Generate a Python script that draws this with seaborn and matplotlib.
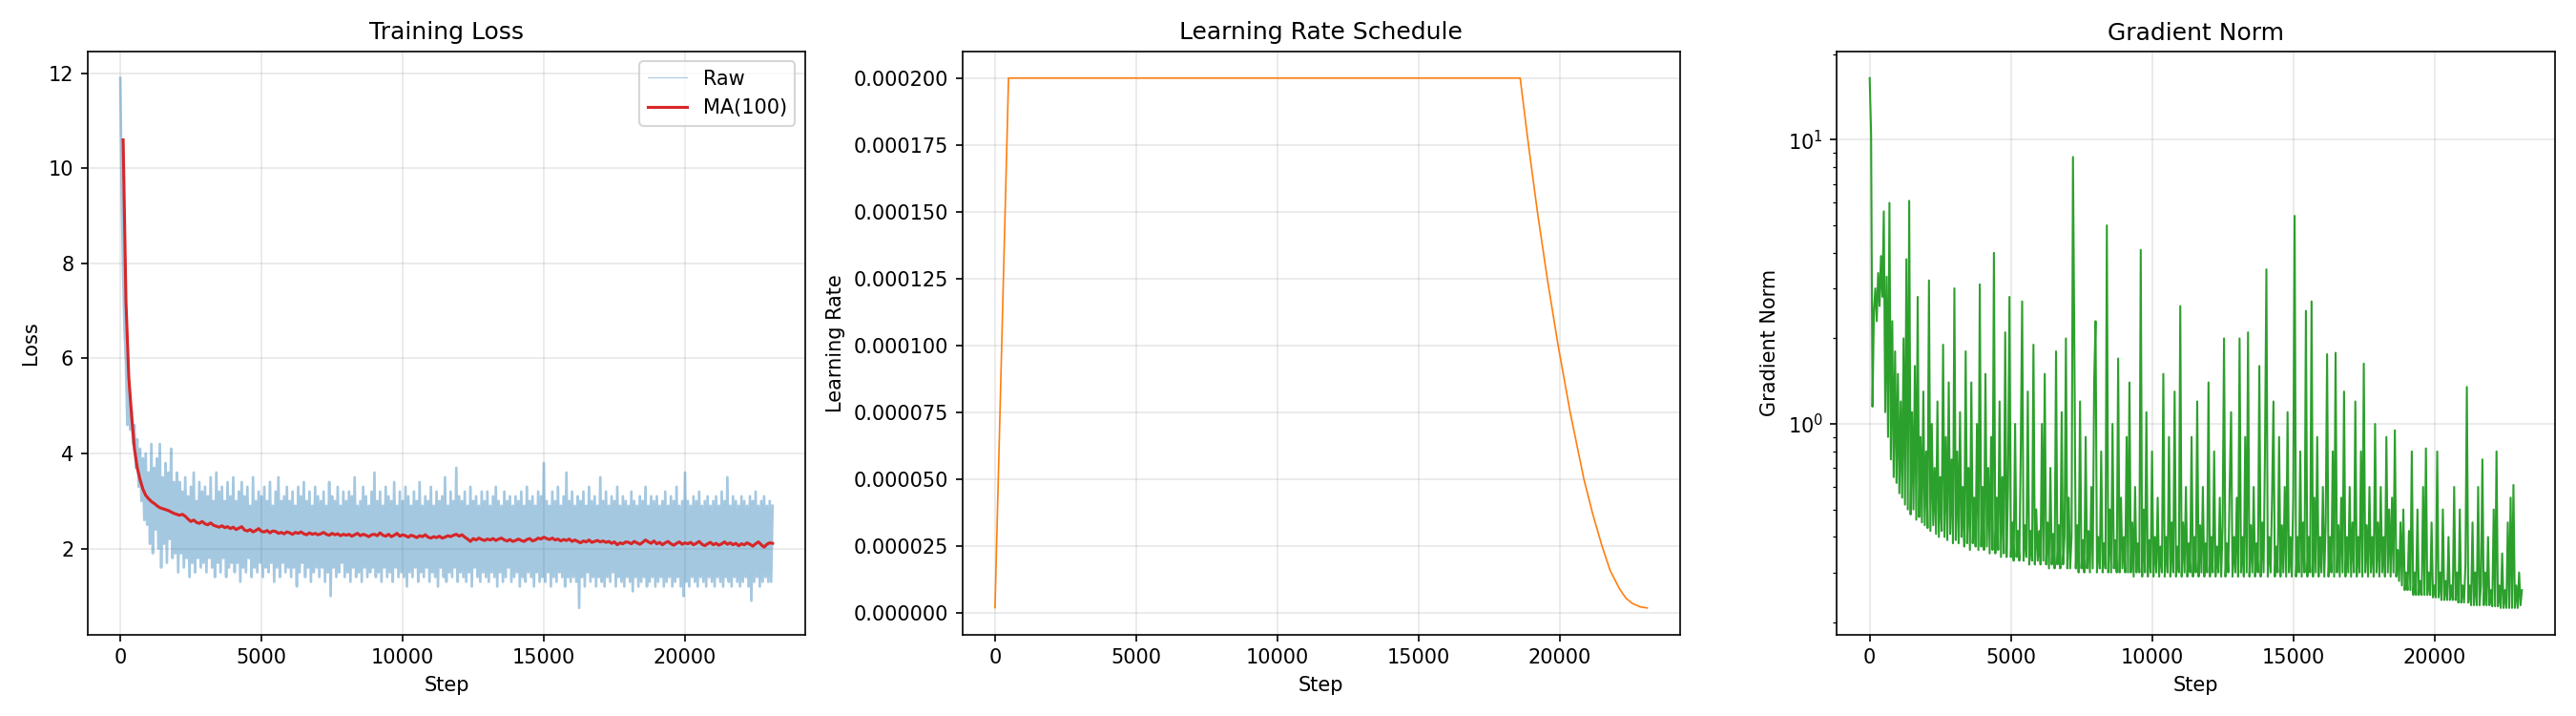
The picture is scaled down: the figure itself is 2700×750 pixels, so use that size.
import numpy as np
import pandas as pd
import matplotlib
matplotlib.use('Agg')
import matplotlib.pyplot as plt
import seaborn as sns

# raw loss, one value every 50 steps (rows = 1000 steps)
loss_raw = [
    11.9, 9.5, 7.8, 6.6, 5.9, 4.6, 5.4, 4.5, 4.9, 4.2, 4.6, 3.7, 4.3, 3.3, 4.1, 3.0, 3.9, 2.6, 4.0, 2.5,
    3.6, 2.1, 4.2, 1.9, 3.7, 2.4, 3.9, 2.0, 4.2, 1.6, 3.5, 2.1, 3.8, 1.7, 3.6, 2.2, 4.1, 1.8, 3.4, 1.9,
    3.6, 1.5, 3.4, 1.9, 3.2, 1.6, 3.5, 1.8, 3.1, 1.4, 3.3, 1.7, 3.6, 1.5, 3.0, 1.8, 3.4, 1.6, 3.2, 1.7,
    3.3, 1.5, 3.1, 1.8, 3.5, 1.6, 3.0, 1.4, 3.6, 1.7, 3.2, 1.5, 3.3, 1.8, 3.0, 1.4, 3.4, 1.6, 3.1, 1.7,
    3.5, 1.5, 3.0, 1.7, 3.2, 1.3, 3.4, 1.6, 3.1, 1.5, 3.3, 1.8, 2.9, 1.4, 3.5, 1.6, 3.0, 1.5, 3.2, 1.7,
    3.1, 1.4, 3.3, 1.6, 3.0, 1.5, 3.4, 1.7, 2.9, 1.3, 3.2, 1.6, 3.5, 1.4, 3.0, 1.7, 3.1, 1.5, 3.3, 1.6,
    3.0, 1.4, 3.2, 1.6, 2.9, 1.2, 3.3, 1.5, 3.1, 1.7, 3.4, 1.4, 3.0, 1.6, 3.2, 1.3, 2.9, 1.5, 3.3, 1.6,
    3.1, 1.4, 3.0, 1.6, 3.2, 1.3, 2.9, 1.5, 3.4, 1.0, 3.1, 1.6, 3.0, 1.4, 3.3, 1.5, 2.9, 1.7, 3.2, 1.4,
    3.0, 1.5, 3.2, 1.3, 3.1, 1.6, 3.5, 1.4, 2.9, 1.5, 3.0, 1.3, 3.3, 1.6, 3.1, 1.4, 2.9, 1.5, 3.2, 1.6,
    3.6, 1.4, 3.0, 1.5, 3.2, 1.3, 2.9, 1.6, 3.3, 1.4, 3.1, 1.5, 3.0, 1.3, 3.4, 1.6, 2.9, 1.4, 3.2, 1.5,
    3.0, 1.4, 3.3, 1.2, 3.1, 1.5, 2.9, 1.4, 3.2, 1.6, 3.0, 1.3, 3.4, 1.5, 2.9, 1.4, 3.1, 1.6, 3.0, 1.3,
    3.3, 1.5, 2.9, 1.4, 3.2, 1.2, 3.0, 1.6, 3.1, 1.4, 3.5, 1.3, 2.9, 1.5, 3.2, 1.4, 3.0, 1.6, 3.7, 1.3,
    3.1, 1.5, 3.0, 1.4, 3.2, 1.3, 2.9, 1.5, 3.3, 1.2, 3.0, 1.6, 3.1, 1.4, 2.9, 1.3, 3.2, 1.5, 3.0, 1.4,
    3.2, 1.3, 2.9, 1.5, 3.1, 1.4, 3.3, 1.2, 3.0, 1.5, 2.9, 1.3, 3.2, 1.4, 3.0, 1.6, 3.1, 1.3, 2.9, 1.4,
    3.1, 1.5, 3.0, 1.2, 3.2, 1.4, 2.9, 1.3, 3.3, 1.5, 3.0, 1.4, 3.1, 1.2, 2.9, 1.5, 3.2, 1.3, 3.1, 1.4,
    3.8, 1.3, 3.0, 1.5, 2.9, 1.2, 3.2, 1.4, 3.0, 1.3, 3.3, 1.5, 2.9, 1.4, 3.1, 1.2, 3.6, 1.4, 3.0, 1.3,
    3.2, 1.4, 2.9, 1.3, 3.1, 0.75, 3.0, 1.4, 3.2, 1.2, 2.9, 1.5, 3.3, 1.3, 3.0, 1.4, 3.1, 1.2, 2.9, 1.4,
    3.5, 1.3, 3.0, 1.2, 3.2, 1.4, 2.9, 1.3, 3.1, 1.5, 3.0, 1.2, 3.3, 1.4, 2.9, 1.3, 3.1, 1.2, 3.0, 1.4,
    2.9, 1.3, 3.2, 1.1, 3.0, 1.4, 2.9, 1.2, 3.1, 1.3, 3.0, 1.4, 3.3, 1.2, 2.9, 1.3, 3.1, 1.4, 3.0, 1.2,
    3.1, 1.3, 2.9, 1.4, 3.0, 1.2, 3.2, 1.3, 2.9, 1.4, 3.1, 1.2, 3.0, 1.3, 3.3, 1.4, 2.9, 1.2, 3.0, 1.0,
    3.6, 1.3, 3.0, 1.2, 2.9, 1.4, 3.1, 1.3, 3.0, 1.2, 3.2, 1.4, 2.9, 1.3, 3.0, 1.2, 3.1, 1.4, 2.9, 1.3,
    3.0, 1.2, 3.1, 1.4, 2.9, 1.3, 3.2, 1.2, 3.0, 1.4, 3.5, 1.3, 2.9, 1.2, 3.1, 1.4, 3.0, 1.3, 2.9, 1.2,
    3.1, 1.3, 3.0, 1.4, 2.9, 1.2, 3.1, 0.9, 3.0, 1.3, 3.2, 1.4, 2.9, 1.2, 3.0, 1.3, 3.1, 1.4, 2.9, 1.3,
    3.0, 1.3, 2.9,
]
loss_steps = np.arange(0, 23101, 50)

# moving average MA(100), one value every 100 steps from step 100
loss_ma = [
    10.6, 7.2, 5.6, 4.8, 4.1, 3.7, 3.45, 3.25, 3.12, 3.05,
    2.99, 2.95, 2.9, 2.86, 2.84, 2.82, 2.8, 2.77, 2.74, 2.72,
    2.7, 2.72, 2.68, 2.62, 2.57, 2.6, 2.55, 2.53, 2.57, 2.52,
    2.5, 2.54, 2.49, 2.47, 2.45, 2.48, 2.44, 2.46, 2.42, 2.45,
    2.4, 2.43, 2.46, 2.39, 2.37, 2.4, 2.35, 2.38, 2.42, 2.36,
    2.35, 2.38, 2.33, 2.37, 2.36, 2.32, 2.34, 2.31, 2.35, 2.33,
    2.3, 2.34, 2.32, 2.35, 2.31, 2.29, 2.33, 2.3, 2.32, 2.29,
    2.31, 2.34, 2.3, 2.28, 2.32, 2.29, 2.31, 2.27, 2.3, 2.28,
    2.3, 2.26, 2.29, 2.32, 2.27, 2.3, 2.28, 2.25, 2.29, 2.3,
    2.27, 2.33, 2.28, 2.26, 2.3, 2.25, 2.28, 2.32, 2.26, 2.29,
    2.27, 2.24, 2.28, 2.26, 2.23, 2.27, 2.25, 2.29, 2.24, 2.22,
    2.25, 2.23, 2.26, 2.22, 2.24, 2.27, 2.25, 2.28, 2.3, 2.26,
    2.29, 2.24, 2.2, 2.15, 2.21, 2.18, 2.22, 2.19, 2.17, 2.2,
    2.18, 2.21, 2.17, 2.2, 2.22, 2.18, 2.16, 2.19, 2.15, 2.17,
    2.2, 2.17, 2.15, 2.19, 2.21, 2.16, 2.18, 2.22, 2.2, 2.24,
    2.21, 2.19, 2.22, 2.18, 2.2, 2.16, 2.19, 2.17, 2.2, 2.15,
    2.18, 2.15, 2.12, 2.16, 2.14, 2.18, 2.13, 2.15, 2.17, 2.14,
    2.16, 2.13, 2.15, 2.11, 2.14, 2.08, 2.12, 2.1, 2.14, 2.13,
    2.1, 2.15, 2.12, 2.09, 2.13, 2.18, 2.14, 2.11, 2.16, 2.1,
    2.13, 2.08, 2.12, 2.15, 2.1, 2.07, 2.11, 2.14, 2.09, 2.12,
    2.1, 2.13, 2.08, 2.11, 2.15, 2.09, 2.06, 2.1, 2.13, 2.08,
    2.11, 2.07, 2.1, 2.14, 2.09, 2.12, 2.08, 2.11, 2.06, 2.1,
    2.08, 2.12, 2.09, 2.05, 2.1, 2.14, 2.08, 2.03, 2.09, 2.12,
    2.11,
]
ma_steps = np.arange(100, 23101, 100)

# learning rate schedule: warmup, flat, decay
lr_steps = [0, 480, 18600, 18894, 19210, 19560, 19944, 20372, 20858, 21170,
            21500, 21783, 22120, 22350, 22573, 22850, 23100]
lr_values = [2e-6, 2e-4, 2e-4, 1.75e-4, 1.5e-4, 1.25e-4, 1.0e-4, 7.5e-5, 5e-5, 3.7e-5,
             2.5e-5, 1.6e-5, 9e-6, 5.5e-6, 3.6e-6, 2.3e-6, 1.9e-6]

# gradient norm, one value every 50 steps
grad_norm = [
    16.5, 10.5, 1.15, 2.5, 3.0, 2.3, 3.4, 2.6, 3.9, 2.8, 5.6, 1.1, 3.3, 0.9, 6.0, 0.75, 2.3, 0.65, 1.8, 0.62,
    1.5, 0.57, 1.2, 0.55, 2.0, 0.52, 3.8, 0.5, 6.1, 0.48, 1.1, 0.5, 1.6, 0.46, 2.8, 0.47, 0.9, 0.45, 1.3, 0.44,
    0.8, 0.43, 3.2, 0.42, 1.0, 0.44, 0.7, 0.41, 1.2, 0.4, 0.65, 0.42, 1.9, 0.4, 0.9, 0.39, 1.4, 0.41, 0.75, 0.38,
    3.0, 0.39, 0.8, 0.38, 1.1, 0.4, 0.6, 0.37, 1.8, 0.38, 0.7, 0.36, 1.4, 0.38, 0.55, 0.37, 1.0, 0.36, 3.1, 0.37,
    0.6, 0.36, 1.5, 0.37, 0.7, 0.35, 0.9, 0.36, 4.0, 0.35, 0.55, 0.36, 1.2, 0.34, 0.65, 0.35, 2.1, 0.34, 0.6, 2.8,
    0.34, 0.45, 0.33, 1.0, 0.34, 0.42, 0.33, 0.8, 2.7, 0.33, 0.44, 0.34, 1.3, 0.32, 0.42, 0.33, 1.9, 0.32, 0.5, 0.33,
    0.42, 0.32, 1.0, 0.33, 1.5, 0.32, 0.45, 0.31, 0.7, 0.32, 0.41, 0.31, 1.8, 0.32, 0.44, 0.31, 1.1, 0.32, 0.4, 2.0,
    0.31, 0.55, 0.31, 0.4, 8.7, 1.8, 0.31, 0.44, 0.3, 1.2, 0.31, 0.39, 0.3, 0.9, 0.31, 0.42, 0.3, 0.6, 0.31, 1.4,
    2.3, 0.3, 0.4, 0.31, 0.8, 0.3, 0.38, 0.31, 5.0, 0.3, 0.5, 0.3, 1.0, 0.31, 0.39, 0.3, 1.7, 0.3, 0.55, 0.31,
    0.4, 0.3, 0.9, 0.3, 1.4, 0.3, 0.45, 0.29, 0.6, 0.3, 0.38, 0.3, 4.1, 0.29, 0.5, 0.3, 1.1, 0.29, 0.39, 0.3,
    0.8, 0.29, 0.4, 0.3, 0.55, 0.29, 0.37, 0.3, 1.5, 0.29, 0.4, 0.3, 0.9, 0.29, 0.45, 0.3, 1.3, 0.29, 0.37, 0.3,
    2.6, 0.29, 0.45, 0.3, 0.6, 0.29, 0.38, 0.3, 0.9, 0.29, 0.4, 0.3, 1.2, 0.29, 0.44, 0.3, 0.6, 0.29, 0.38, 0.3,
    1.4, 0.29, 0.4, 0.3, 0.8, 0.29, 0.37, 0.3, 0.55, 0.29, 0.44, 2.0, 0.29, 0.38, 0.3, 0.6, 1.1, 0.29, 0.4, 0.3,
    0.55, 0.29, 2.0, 0.3, 0.4, 0.29, 0.9, 0.3, 2.1, 0.29, 0.44, 0.3, 0.6, 0.29, 0.38, 0.3, 1.6, 0.29, 0.45, 0.3,
    0.8, 3.5, 0.29, 0.4, 0.3, 0.55, 1.2, 0.29, 0.37, 0.3, 0.9, 0.29, 0.44, 0.3, 0.6, 0.29, 1.1, 0.3, 0.4, 0.29,
    0.55, 5.4, 0.29, 0.4, 0.3, 0.8, 0.29, 0.45, 0.3, 2.5, 0.29, 0.4, 0.3, 2.7, 0.29, 0.55, 0.3, 0.9, 0.29, 0.4,
    0.3, 0.6, 0.29, 0.45, 1.76, 0.29, 0.4, 0.3, 0.8, 0.29, 1.78, 0.3, 0.44, 0.29, 0.55, 0.3, 1.3, 0.29, 0.4, 0.3,
    0.6, 0.29, 0.45, 0.3, 1.2, 0.29, 0.4, 0.3, 0.8, 0.29, 1.63, 0.3, 0.44, 0.29, 0.6, 0.3, 0.4, 0.29, 1.0, 0.3,
    0.45, 0.29, 0.6, 0.3, 0.4, 0.29, 0.9, 0.3, 0.5, 0.29, 0.55, 0.3, 0.95, 0.29, 0.36, 0.28, 0.45, 0.27, 0.5, 0.26,
    0.3, 0.26, 0.42, 0.26, 0.8, 0.25, 0.3, 0.25, 0.5, 0.25, 0.28, 0.25, 0.6, 0.25, 0.82, 0.25, 0.3, 0.25, 0.45, 0.245,
    0.27, 0.245, 0.8, 0.245, 0.3, 0.24, 0.5, 0.24, 0.28, 0.24, 0.4, 0.24, 0.27, 0.24, 0.6, 0.24, 0.3, 0.235, 0.5, 0.235,
    0.27, 0.235, 0.32, 1.35, 0.235, 0.27, 0.23, 0.45, 0.23, 0.3, 0.23, 0.6, 0.23, 0.27, 0.75, 0.23, 0.3, 0.23, 0.4, 0.23,
    0.26, 0.228, 0.5, 0.228, 0.8, 0.228, 0.27, 0.225, 0.35, 0.225, 0.26, 0.225, 0.45, 0.225, 0.55, 0.225, 0.61, 0.225, 0.27, 0.225,
    0.3, 0.23, 0.26,
]
grad_steps = np.arange(0, 23101, 50)

raw_df = pd.DataFrame({'step': loss_steps, 'loss': loss_raw})
ma_df = pd.DataFrame({'step': ma_steps, 'loss': loss_ma})
lr_df = pd.DataFrame({'step': lr_steps, 'lr': lr_values})
gn_df = pd.DataFrame({'step': grad_steps, 'gn': grad_norm})

fig, axes = plt.subplots(1, 3, figsize=(18, 5), dpi=150)

ax = axes[0]
sns.lineplot(data=raw_df, x='step', y='loss', ax=ax, color='tab:blue', alpha=0.4,
             linewidth=1.3, label='Raw', estimator=None, sort=False)
sns.lineplot(data=ma_df, x='step', y='loss', ax=ax, color='tab:red',
             linewidth=1.5, label='MA(100)', estimator=None, sort=False)
ax.set_title('Training Loss')
ax.set_xlabel('Step')
ax.set_ylabel('Loss')
leg = ax.legend(loc='upper right')
leg.get_lines()[0].set_linewidth(0.5)
ax.grid(True, alpha=0.3)

ax = axes[1]
sns.lineplot(data=lr_df, x='step', y='lr', ax=ax, color='tab:orange',
             linewidth=0.8, estimator=None, sort=False)
ax.set_title('Learning Rate Schedule')
ax.set_xlabel('Step')
ax.set_ylabel('Learning Rate')
ax.grid(True, alpha=0.3)

ax = axes[2]
sns.lineplot(data=gn_df, x='step', y='gn', ax=ax, color='tab:green',
             linewidth=1.0, estimator=None, sort=False)
ax.set_yscale('log')
ax.set_title('Gradient Norm')
ax.set_xlabel('Step')
ax.set_ylabel('Gradient Norm')
ax.grid(True, alpha=0.3)

plt.tight_layout()
plt.savefig('out.png', dpi=150)
